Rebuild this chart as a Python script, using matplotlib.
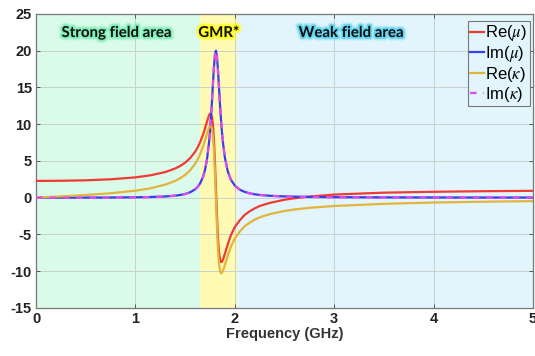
import matplotlib
matplotlib.use("Agg")
import matplotlib.pyplot as plt
import matplotlib.patheffects as pe

plt.rcParams["mathtext.fontset"] = "stix"

# ---- data ----
freq = [0, 0.25, 0.5, 0.75, 1.0, 1.15, 1.3, 1.4, 1.45, 1.5, 1.55, 1.6, 1.62, 1.65,
        1.68, 1.7, 1.72, 1.74, 1.75, 1.76, 1.77, 1.78, 1.79, 1.80, 1.81, 1.82,
        1.83, 1.84, 1.85, 1.86, 1.87, 1.88, 1.90, 1.93, 1.96, 2.0, 2.05, 2.1,
        2.15, 2.2, 2.25, 2.35, 2.5, 2.6, 2.75, 3.0, 3.5, 4.0, 4.5, 5.0]
re_mu = [2.28, 2.30, 2.36, 2.50, 2.76, 3.04, 3.48, 3.97, 4.31, 4.76, 5.37, 6.23,
         6.68, 7.50, 8.57, 9.40, 10.33, 11.18, 11.42, 11.40, 10.98, 9.90, 7.91,
         4.90, 1.30, -2.30, -5.30, -7.27, -8.34, -8.74, -8.72, -8.47, -7.64,
         -6.32, -5.12, -4.00, -3.08, -2.33, -1.85, -1.46, -1.14, -0.72, -0.28,
         -0.08, 0.15, 0.42, 0.68, 0.80, 0.88, 0.93]
im_mu = [0, 0.005, 0.013, 0.025, 0.054, 0.09, 0.166, 0.273, 0.363, 0.502, 0.728,
         1.127, 1.376, 1.92, 2.82, 3.77, 5.21, 7.43, 8.97, 10.84, 13.04, 15.45,
         17.75, 19.43, 19.99, 19.23, 17.45, 15.18, 12.87, 10.79, 9.03, 7.58,
         5.46, 3.54, 2.46, 1.64, 1.09, 0.78, 0.59, 0.46, 0.37, 0.26, 0.17, 0.14,
         0.10, 0.07, 0.04, 0.03, 0.02, 0.02]
re_kappa = [0, 0.17, 0.36, 0.60, 0.95, 1.27, 1.77, 2.28, 2.64, 3.10, 3.72, 4.59,
            5.04, 5.88, 6.94, 7.78, 8.70, 9.55, 9.80, 9.80, 9.40, 8.30, 6.31,
            3.30, -0.30, -3.90, -6.85, -8.80, -9.86, -10.26, -10.24, -9.98,
            -9.17, -7.85, -6.70, -5.55, -4.60, -3.88, -3.40, -3.00, -2.68,
            -2.24, -1.81, -1.61, -1.38, -1.13, -0.84, -0.66, -0.55, -0.47]
im_kappa = [0, 0.001, 0.006, 0.018, 0.045, 0.081, 0.157, 0.264, 0.355, 0.493,
            0.719, 1.118, 1.367, 1.91, 2.81, 3.76, 5.20, 7.42, 8.96, 10.83,
            13.03, 15.44, 17.74, 19.42, 19.98, 19.22, 17.44, 15.17, 12.86,
            10.78, 9.02, 7.57, 5.45, 3.53, 2.45, 1.64, 1.08, 0.77, 0.58, 0.45,
            0.37, 0.25, 0.16, 0.13, 0.10, 0.06, 0.04, 0.02, 0.02, 0.01]

region_edges = [0, 1.65, 2.02, 5]
region_colors = ["#dafbea", "#fffbb4", "#e2f5fc"]
region_labels = ["Strong field area", "GMR*", "Weak field area"]
region_label_x = [0.81, 1.84, 3.17]
region_glow = ["#7fefb6", "#ffff20", "#5fd4f0"]

xticks = [0, 1, 2, 3, 4, 5]
yticks = [-15, -10, -5, 0, 5, 10, 15, 20, 25]

# ---- figure ----
fig = plt.figure(figsize=(5.35, 3.56), dpi=100)
ax = fig.add_axes([0.0673, 0.135, 0.9290, 0.826])

for i in range(3):
    ax.axvspan(region_edges[i], region_edges[i + 1], color=region_colors[i],
               lw=0, zorder=0)

ax.grid(True, color="#c8d0cc", lw=0.7, zorder=1)
ax.set_axisbelow(True)

ax.plot(freq, re_mu, color="#f03a32", lw=1.6, label=r"Re($\mu$)", zorder=3)
ax.plot(freq, im_mu, color="#3a3cf0", lw=1.6, label=r"Im($\mu$)", zorder=3)
ax.plot(freq, re_kappa, color="#e3b43a", lw=1.6, label=r"Re($\kappa$)", zorder=3)
ax.plot(freq, im_kappa, color="#e24ce8", lw=1.6, ls=(0, (3, 3)),
        label=r"Im($\kappa$)", zorder=4)

for lbl, xx, gl in zip(region_labels, region_label_x, region_glow):
    ax.text(xx, 22.4, lbl, ha="center", va="center", fontsize=10.8,
            fontweight="bold", family="Lato", color="#111111", zorder=5,
            path_effects=[pe.withStroke(linewidth=5.0, foreground=gl, alpha=0.35),
                          pe.withStroke(linewidth=2.8, foreground=gl, alpha=0.9)])

ax.set_xlim(0, 5)
ax.set_ylim(-15, 25)
ax.set_xticks(xticks)
ax.set_yticks(yticks)
ax.set_xticklabels([str(v) for v in xticks], fontweight="bold",
                   family="Liberation Sans", fontsize=10.5, color="#222222")
ax.set_yticklabels([str(v) for v in yticks], fontweight="bold",
                   family="Liberation Sans", fontsize=10.5, color="#222222")
ax.tick_params(direction="in", top=True, right=True, length=3, width=0.7,
               color="#555555", pad=3)
ax.set_xlabel("Frequency (GHz)", fontweight="bold", family="Liberation Sans",
              fontsize=10.5, color="#333333", labelpad=1)
for s in ax.spines.values():
    s.set_color("#777777")
    s.set_linewidth(0.9)

leg = ax.legend(loc="upper right", bbox_to_anchor=(0.997, 0.982),
                prop={"family": "Liberation Sans", "size": 12},
                handlelength=0.8, handletextpad=0.1, borderpad=0.15,
                labelspacing=0.05, borderaxespad=0.1, fancybox=False,
                framealpha=1.0, edgecolor="#777777", facecolor="#e2f5fc")
leg.get_frame().set_linewidth(0.8)
leg.set_zorder(10)

fig.savefig("out.png", dpi=100)
